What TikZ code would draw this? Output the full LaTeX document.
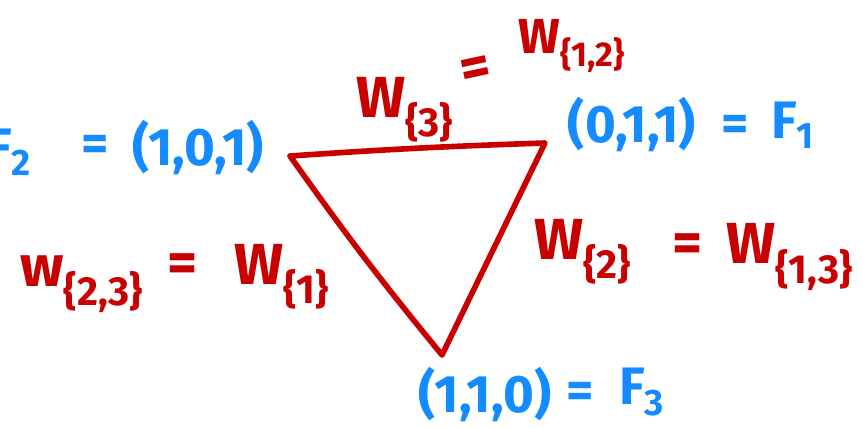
\documentclass[tikz,border=0pt]{standalone}
\usepackage{fontspec}
\setmainfont{Fira Sans}
\usetikzlibrary{positioning}
\definecolor{penblue}{RGB}{20,140,255}
\definecolor{penred}{RGB}{200,0,0}

\begin{document}
\begin{tikzpicture}[x=0.02cm, y=-0.02cm,
    vertex/.style={text=penblue, font=\fontsize{30}{32}\selectfont\bfseries, inner sep=0pt},
    weight/.style={text=penred, font=\fontsize{33}{35}\selectfont\bfseries, inner sep=0pt},
    edge/.style={penred, line width=3.2pt, line join=round, line cap=round}
]
    \path[use as bounding box, clip] (0,0) rectangle (863,427);

    % Triangle
    \coordinate (c2) at (290,156);
    \coordinate (c1) at (545,143);
    \coordinate (c3) at (442,355);
    \draw[edge] (c2) to[bend left=1] (c1) -- (c3) to[bend left=2] (c2);

    % Corners
    \node[vertex, anchor=east] (f2) at (32,152) {F\textsubscript{2}};
    \node[vertex] (eq2) at (95,148) {=};
    \node[vertex] (p2) at (198,148) {(1,0,1)};

    \node[vertex] (p1) at (632,125) {(0,1,1)};
    \node[vertex] (eq1) at (735,128) {=};
    \node[vertex] (f1) at (793,125) {F\textsubscript{1}};

    \node[vertex] (p3) at (485,395) {(1,1,0)};
    \node[vertex] (eq3) at (580,395) {=};
    \node[vertex] (f3) at (642,392) {F\textsubscript{3}};

    % Edges
    \node[weight] (w3) at (405,110) {W\textsubscript{\{3\}}};
    \node[weight, rotate=12] (eqa) at (476,72) {=};
    \node[weight, font=\fontsize{28}{30}\selectfont\bfseries] (w12) at (572,46) {W\textsubscript{\{1,2\}}};

    \node[weight] (w23) at (82,284) {w\textsubscript{\{2,3\}}};
    \node[weight] (eqb) at (183,268) {=};
    \node[weight] (w1) at (282,277) {W\textsubscript{\{1\}}};

    \node[weight] (w2) at (583,252) {W\textsubscript{\{2\}}};
    \node[weight] (eqc) at (688,248) {=};
    \node[weight] (w13) at (790,257) {W\textsubscript{\{1,3\}}};
\end{tikzpicture}
\end{document}
